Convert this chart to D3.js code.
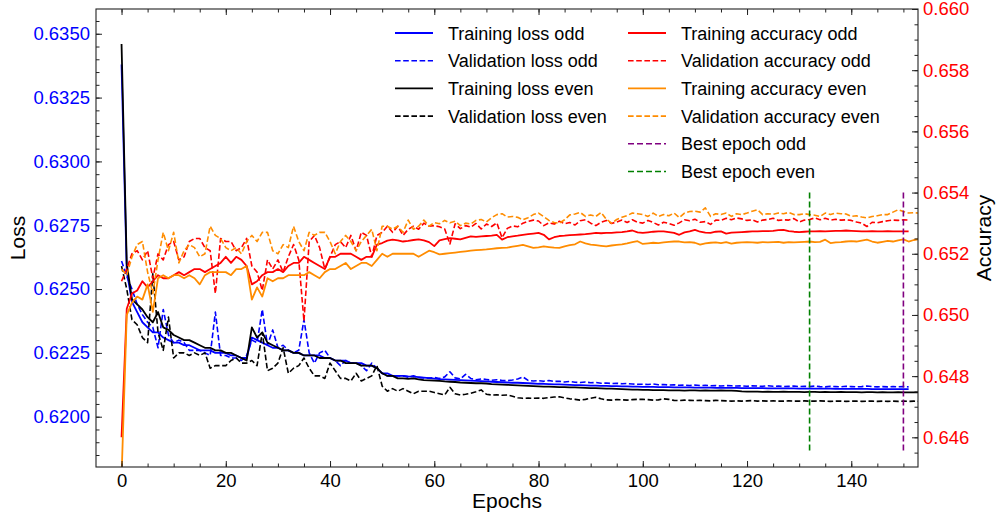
<!DOCTYPE html>
<html>
<head>
<meta charset="utf-8">
<script src="https://cdn.jsdelivr.net/npm/d3@7"></script>
<style>
  html, body { margin: 0; padding: 0; background: #fff; }
  svg { display: block; }
</style>
</head>
<body>
<div id="chart"></div>
<script>
const WIDTH = 998;
const HEIGHT = 518;
const MARGIN = { top: 9, right: 80, bottom: 51, left: 96 };
const FONT = "'Liberation Sans', Arial, Helvetica, sans-serif";

// axis ranges and tick labels
const epochDomain = [-4.9, 152.8];
const lossDomain = [0.61803, 0.63597];
const accDomain = [0.64503, 0.66];
const epochTicks = [0, 20, 40, 60, 80, 100, 120, 140];
const lossTicks = [0.6200, 0.6225, 0.6250, 0.6275, 0.6300, 0.6325, 0.6350];
const accTicks = [0.646, 0.648, 0.650, 0.652, 0.654, 0.656, 0.658, 0.660];

// per-epoch values, index = epoch
const trainLossOdd = [
  0.6338, 0.6257, 0.6245, 0.6241, 0.6237, 0.6235, 0.6233, 0.6233, 0.6231, 0.6230,
  0.6229, 0.6229, 0.6228, 0.6228, 0.6227, 0.6226, 0.6226, 0.6226, 0.6225, 0.6225,
  0.6225, 0.6224, 0.6224, 0.6223, 0.6223, 0.6231, 0.6230, 0.6229, 0.6228, 0.6227,
  0.6227, 0.6226, 0.6226, 0.6225, 0.6225, 0.6224, 0.6224, 0.6224, 0.6224, 0.6223,
  0.6223, 0.6222, 0.6222, 0.6222, 0.6221, 0.6221, 0.6221, 0.6220, 0.6220, 0.6219,
  0.6217, 0.6217, 0.6216, 0.6216, 0.6216, 0.62158, 0.62157, 0.62155, 0.62153, 0.62151,
  0.62149, 0.62147, 0.62146, 0.62145, 0.62144, 0.62143, 0.62142, 0.62141, 0.62140, 0.62139,
  0.62138, 0.62137, 0.62136, 0.62135, 0.62134, 0.62133, 0.62133, 0.62132, 0.62131, 0.62130,
  0.62129, 0.62129, 0.62128, 0.62127, 0.62127, 0.62126, 0.62125, 0.62124, 0.62124, 0.62123,
  0.62122, 0.62122, 0.62121, 0.62121, 0.62120, 0.62120, 0.62119, 0.62119, 0.62118, 0.62118,
  0.62117, 0.62117, 0.62117, 0.62116, 0.62116, 0.62116, 0.62115, 0.62115, 0.62115, 0.62115,
  0.62114, 0.62114, 0.62114, 0.62114, 0.62113, 0.62113, 0.62113, 0.62113, 0.62113, 0.62112,
  0.62112, 0.62112, 0.62112, 0.62112, 0.62111, 0.62111, 0.62111, 0.62111, 0.62111, 0.62111,
  0.62110, 0.62110, 0.62110, 0.62110, 0.62110, 0.62110, 0.62110, 0.62109, 0.62109, 0.62109,
  0.62109, 0.62109, 0.62109, 0.62109, 0.62108, 0.62108, 0.62108, 0.62108, 0.62108, 0.62108,
  0.62108, 0.62108
];
const valLossOdd = [
  0.6261, 0.6255, 0.6250, 0.6244, 0.6240, 0.6237, 0.6235, 0.6227, 0.6242, 0.6232,
  0.6229, 0.6230, 0.6229, 0.6226, 0.6226, 0.6226, 0.6225, 0.6224, 0.6241, 0.6224,
  0.6224, 0.6223, 0.6223, 0.6222, 0.6224, 0.6230, 0.6229, 0.6242, 0.6228, 0.6234,
  0.6227, 0.6228, 0.6226, 0.6225, 0.6226, 0.6238, 0.6225, 0.6221, 0.6225, 0.6226,
  0.6223, 0.6222, 0.6220, 0.6222, 0.6221, 0.6221, 0.6220, 0.6218, 0.6221, 0.6219,
  0.6217, 0.6216, 0.6216, 0.6216, 0.6216, 0.62155, 0.62160, 0.62153, 0.62152, 0.62151,
  0.62154, 0.62150, 0.62156, 0.62176, 0.62152, 0.62148, 0.62166, 0.62150, 0.62145, 0.62148,
  0.62146, 0.62143, 0.62145, 0.62142, 0.62141, 0.62144, 0.62148, 0.62156, 0.62142, 0.62140,
  0.62141, 0.62139, 0.62142, 0.62138, 0.62139, 0.62136, 0.62138, 0.62135, 0.62134, 0.62136,
  0.62133, 0.62134, 0.62131, 0.62132, 0.62130, 0.62131, 0.62129, 0.62130, 0.62128, 0.62127,
  0.62127, 0.62126, 0.62128, 0.62125, 0.62126, 0.62124, 0.62125, 0.62123, 0.62124, 0.62122,
  0.62124, 0.62122, 0.62123, 0.62121, 0.62122, 0.62120, 0.62122, 0.62121, 0.62120, 0.62121,
  0.62119, 0.62121, 0.62120, 0.62119, 0.62121, 0.62119, 0.62120, 0.62118, 0.62119, 0.62120,
  0.62118, 0.62119, 0.62118, 0.62120, 0.62118, 0.62117, 0.62119, 0.62118, 0.62117, 0.62119,
  0.62118, 0.62117, 0.62118, 0.62120, 0.62118, 0.62117, 0.62118, 0.62117, 0.62118, 0.62117,
  0.62118, 0.62117
];
const trainLossEven = [
  0.6346, 0.6260, 0.6246, 0.6244, 0.6242, 0.6239, 0.6237, 0.6241, 0.6235, 0.6234,
  0.6232, 0.6231, 0.6230, 0.6230, 0.6229, 0.6228, 0.6227, 0.6227, 0.6226, 0.6226,
  0.6225, 0.6225, 0.6224, 0.6223, 0.6222, 0.6235, 0.6231, 0.6233, 0.6229, 0.6228,
  0.6227, 0.6226, 0.6226, 0.6225, 0.6225, 0.6224, 0.6224, 0.6224, 0.6223, 0.6223,
  0.6223, 0.6222, 0.6222, 0.6221, 0.6221, 0.6221, 0.6220, 0.6220, 0.6220, 0.6219,
  0.6217, 0.6216, 0.6216, 0.6215, 0.6215, 0.62148, 0.62150, 0.62146, 0.62143, 0.62142,
  0.62141, 0.62140, 0.62138, 0.62137, 0.62136, 0.62134, 0.62133, 0.62132, 0.62131, 0.62131,
  0.62130, 0.62128, 0.62127, 0.62126, 0.62125, 0.62124, 0.62123, 0.62122, 0.62121, 0.62120,
  0.62119, 0.62118, 0.62118, 0.62117, 0.62116, 0.62116, 0.62115, 0.62115, 0.62114, 0.62113,
  0.62112, 0.62112, 0.62111, 0.62110, 0.62110, 0.62109, 0.62108, 0.62107, 0.62106, 0.62106,
  0.62105, 0.62105, 0.62104, 0.62104, 0.62104, 0.62103, 0.62103, 0.62103, 0.62102, 0.62103,
  0.62103, 0.62102, 0.62103, 0.62102, 0.62102, 0.62103, 0.62102, 0.62102, 0.62101, 0.62099,
  0.62098, 0.62098, 0.62098, 0.62097, 0.62098, 0.62097, 0.62097, 0.62098, 0.62097, 0.62097,
  0.62097, 0.62096, 0.62097, 0.62097, 0.62096, 0.62097, 0.62096, 0.62096, 0.62097, 0.62096,
  0.62096, 0.62096, 0.62095, 0.62096, 0.62096, 0.62095, 0.62096, 0.62095, 0.62095, 0.62096,
  0.62095, 0.62095, 0.62095, 0.62095
];
const valLossEven = [
  0.6259, 0.6250, 0.6238, 0.6236, 0.6231, 0.6229, 0.6256, 0.6233, 0.6226, 0.6239,
  0.6223, 0.6225, 0.6225, 0.6224, 0.6225, 0.6224, 0.6225, 0.6219, 0.6220, 0.6220,
  0.6220, 0.6222, 0.6223, 0.6221, 0.6221, 0.6222, 0.6220, 0.6233, 0.6218, 0.6219,
  0.6221, 0.6227, 0.6217, 0.6219, 0.6220, 0.6223, 0.6219, 0.6216, 0.6216, 0.6215,
  0.6221, 0.6218, 0.6215, 0.6215, 0.6214, 0.6217, 0.6214, 0.6215, 0.6216, 0.6220,
  0.6212, 0.6210, 0.6211, 0.6210, 0.6211, 0.6210, 0.6209, 0.6210, 0.6210, 0.6210,
  0.62095, 0.62090, 0.62085, 0.62115, 0.62090, 0.62085, 0.62088, 0.62092, 0.62098, 0.62105,
  0.62088, 0.62085, 0.62086, 0.62084, 0.62085, 0.62080, 0.62074, 0.62072, 0.62073, 0.62072,
  0.62073, 0.62072, 0.62075, 0.62077, 0.62078, 0.62074, 0.62070, 0.62068, 0.62065, 0.62068,
  0.62072, 0.62076, 0.62070, 0.62066, 0.62065, 0.62067, 0.62066, 0.62065, 0.62067, 0.62068,
  0.62068, 0.62067, 0.62065, 0.62066, 0.62070, 0.62068, 0.62064, 0.62063, 0.62065, 0.62064,
  0.62063, 0.62064, 0.62063, 0.62062, 0.62064, 0.62063, 0.62062, 0.62061, 0.62062, 0.62061,
  0.62062, 0.62063, 0.62061, 0.62062, 0.62061, 0.62062, 0.62061, 0.62061, 0.62062, 0.62061,
  0.62061, 0.62062, 0.62061, 0.62061, 0.62062, 0.62061, 0.62060, 0.62061, 0.62061, 0.62060,
  0.62061, 0.62061, 0.62060, 0.62061, 0.62061, 0.62060, 0.62061, 0.62060, 0.62061, 0.62060,
  0.62061, 0.62060, 0.62061, 0.62060
];
const trainAccOdd = [
  0.6460, 0.6502, 0.6507, 0.6508, 0.6511, 0.6509, 0.6511, 0.6513, 0.6512, 0.6512,
  0.6513, 0.6514, 0.6513, 0.6514, 0.6515, 0.6515, 0.6514, 0.6515, 0.6516, 0.6517,
  0.6519, 0.6517, 0.6519, 0.6518, 0.6516, 0.6510, 0.6511, 0.6513, 0.6514, 0.6514,
  0.6515, 0.6514, 0.6516, 0.6517, 0.6517, 0.6519, 0.6518, 0.6517, 0.6516, 0.6515,
  0.6519, 0.6519, 0.6520, 0.6520, 0.6520, 0.6519, 0.6518, 0.6519, 0.6519, 0.6523,
  0.65235, 0.65243, 0.65246, 0.65244, 0.65240, 0.65242, 0.65245, 0.65247, 0.65244, 0.65238,
  0.65225, 0.65244, 0.65248, 0.65251, 0.65249, 0.65247, 0.65252, 0.65257, 0.65255, 0.65257,
  0.65258, 0.65259, 0.65262, 0.65246, 0.65254, 0.65257, 0.65259, 0.65262, 0.65264, 0.65266,
  0.65268, 0.65262, 0.65247, 0.65254, 0.65258, 0.65259, 0.65261, 0.65262, 0.65263, 0.65264,
  0.65266, 0.65268, 0.65267, 0.65268, 0.65268, 0.65270, 0.65271, 0.65273, 0.65276, 0.65270,
  0.65268, 0.65270, 0.65272, 0.65273, 0.65273, 0.65271, 0.65268, 0.65262, 0.65270, 0.65273,
  0.65278, 0.65272, 0.65269, 0.65268, 0.65272, 0.65273, 0.65266, 0.65269, 0.65270, 0.65271,
  0.65272, 0.65273, 0.65273, 0.65274, 0.65274, 0.65275, 0.65277, 0.65278, 0.65274, 0.65272,
  0.65271, 0.65272, 0.65273, 0.65273, 0.65274, 0.65273, 0.65274, 0.65275, 0.65275, 0.65276,
  0.65275, 0.65274, 0.65273, 0.65273, 0.65274, 0.65273, 0.65273, 0.65274, 0.65273, 0.65273,
  0.65273, 0.65273
];
const valAccOdd = [
  0.6511, 0.6515, 0.6520, 0.6521, 0.6518, 0.6521, 0.6512, 0.6520, 0.6518, 0.6523,
  0.6524, 0.6518, 0.6519, 0.6524, 0.6525, 0.6525, 0.6522, 0.6521, 0.6507, 0.6525,
  0.6524, 0.6524, 0.6521, 0.6522, 0.6525, 0.6516, 0.6514, 0.6508, 0.6518, 0.6515,
  0.6518, 0.6514, 0.6519, 0.6523, 0.6518, 0.6498, 0.6524, 0.6526, 0.6522, 0.6515,
  0.6519, 0.6523, 0.6524, 0.6522, 0.6526, 0.6521, 0.6527, 0.6526, 0.6519, 0.6526,
  0.6527, 0.6529, 0.6527, 0.6529, 0.6526, 0.6528, 0.6529, 0.6528, 0.6530, 0.6529,
  0.65292, 0.65288, 0.65281, 0.65232, 0.65298, 0.65282, 0.65292, 0.65287, 0.65299, 0.65281,
  0.65297, 0.65289, 0.65301, 0.65252, 0.65283, 0.65291, 0.65288, 0.65300, 0.65306, 0.65310,
  0.65307, 0.65292, 0.65301, 0.65297, 0.65306, 0.65298, 0.65302, 0.65294, 0.65308, 0.65311,
  0.65300, 0.65292, 0.65303, 0.65309, 0.65299, 0.65304, 0.65310, 0.65302, 0.65311, 0.65303,
  0.65300, 0.65309, 0.65302, 0.65294, 0.65303, 0.65299, 0.65293, 0.65301, 0.65311, 0.65308,
  0.65313, 0.65303, 0.65305, 0.65296, 0.65310, 0.65309, 0.65316, 0.65311, 0.65317, 0.65314,
  0.65309, 0.65311, 0.65304, 0.65310, 0.65312, 0.65316, 0.65309, 0.65311, 0.65310, 0.65315,
  0.65304, 0.65310, 0.65312, 0.65317, 0.65311, 0.65316, 0.65310, 0.65313, 0.65310, 0.65311,
  0.65309, 0.65304, 0.65300, 0.65289, 0.65303, 0.65301, 0.65305, 0.65308, 0.65310, 0.65309,
  0.65311, 0.65310
];
const trainAccEven = [
  0.6447, 0.6500, 0.6504, 0.6506, 0.6505, 0.6510, 0.6501, 0.6512, 0.6513, 0.6512,
  0.6513, 0.6513, 0.6512, 0.6513, 0.6512, 0.6510, 0.6513, 0.6514, 0.6514, 0.6514,
  0.6514, 0.6513, 0.6515, 0.6515, 0.6516, 0.6505, 0.6509, 0.6506, 0.6512, 0.6511,
  0.6512, 0.6512, 0.6513, 0.6513, 0.6513, 0.6513, 0.6514, 0.6513, 0.6512, 0.6514,
  0.6515, 0.6515, 0.6516, 0.6517, 0.6515, 0.6516, 0.6517, 0.6517, 0.6516, 0.6518,
  0.6520, 0.6519, 0.6520, 0.6520, 0.6520, 0.6520, 0.6520, 0.6519, 0.6520, 0.6521,
  0.65205, 0.65198, 0.65200, 0.65202, 0.65204, 0.65206, 0.65208, 0.65210, 0.65212, 0.65213,
  0.65214, 0.65216, 0.65218, 0.65219, 0.65220, 0.65223, 0.65226, 0.65229, 0.65224, 0.65219,
  0.65221, 0.65224, 0.65222, 0.65220, 0.65219, 0.65224, 0.65228, 0.65231, 0.65240, 0.65234,
  0.65230, 0.65228, 0.65226, 0.65224, 0.65227, 0.65229, 0.65231, 0.65234, 0.65238, 0.65241,
  0.65232, 0.65234, 0.65236, 0.65235, 0.65237, 0.65239, 0.65240, 0.65240, 0.65237, 0.65238,
  0.65236, 0.65230, 0.65234, 0.65236, 0.65237, 0.65235, 0.65238, 0.65233, 0.65236, 0.65237,
  0.65238, 0.65237, 0.65236, 0.65238, 0.65237, 0.65238, 0.65239, 0.65236, 0.65238, 0.65237,
  0.65238, 0.65239, 0.65240, 0.65238, 0.65239, 0.65246, 0.65235, 0.65237, 0.65238, 0.65240,
  0.65241, 0.65240, 0.65243, 0.65246, 0.65240, 0.65236, 0.65239, 0.65242, 0.65240, 0.65244,
  0.65247, 0.65240, 0.65245, 0.65248
];
const valAccEven = [
  0.6515, 0.6513, 0.6519, 0.6523, 0.6524, 0.6514, 0.6507, 0.6518, 0.6527, 0.6521,
  0.6527, 0.6517, 0.6521, 0.6523, 0.6522, 0.6519, 0.6520, 0.6529, 0.6526, 0.6525,
  0.6522, 0.6521, 0.6522, 0.6520, 0.6524, 0.6526, 0.6524, 0.6527, 0.6527, 0.6521,
  0.6520, 0.6523, 0.6522, 0.6529, 0.6524, 0.6521, 0.6527, 0.6526, 0.6527, 0.6527,
  0.6524, 0.6520, 0.6524, 0.6526, 0.6524, 0.6521, 0.6524, 0.6526, 0.6528, 0.6521,
  0.6529, 0.6529, 0.6528, 0.6529, 0.6527, 0.6531, 0.6528, 0.6529, 0.6531, 0.6529,
  0.65302, 0.65298, 0.65309, 0.65301, 0.65306, 0.65292, 0.65300, 0.65297, 0.65309, 0.65312,
  0.65304, 0.65318, 0.65328, 0.65331, 0.65320, 0.65322, 0.65319, 0.65311, 0.65318, 0.65328,
  0.65333, 0.65321, 0.65309, 0.65302, 0.65300, 0.65311, 0.65327, 0.65330, 0.65335, 0.65322,
  0.65327, 0.65322, 0.65335, 0.65313, 0.65300, 0.65312, 0.65319, 0.65325, 0.65333, 0.65331,
  0.65328, 0.65322, 0.65333, 0.65322, 0.65328, 0.65324, 0.65333, 0.65318, 0.65333, 0.65338,
  0.65339, 0.65336, 0.65350, 0.65322, 0.65331, 0.65328, 0.65333, 0.65322, 0.65331, 0.65328,
  0.65333, 0.65339, 0.65344, 0.65328, 0.65331, 0.65329, 0.65333, 0.65331, 0.65335, 0.65328,
  0.65328, 0.65331, 0.65328, 0.65326, 0.65322, 0.65333, 0.65328, 0.65333, 0.65331, 0.65330,
  0.65322, 0.65324, 0.65320, 0.65317, 0.65322, 0.65324, 0.65328, 0.65328, 0.65336, 0.65344,
  0.65338, 0.65333, 0.65334, 0.65333
];

// best epochs (vertical markers) and their vertical extent on the accuracy axis
const bestEpochOdd = 150;
const bestEpochEven = 132;
const bestEpochSpan = [0.6455, 0.6540];

const plotW = WIDTH - MARGIN.left - MARGIN.right;
const plotH = HEIGHT - MARGIN.top - MARGIN.bottom;

const x = d3.scaleLinear().domain(epochDomain).range([0, plotW]);
const yLoss = d3.scaleLinear().domain(lossDomain).range([plotH, 0]);
const yAcc = d3.scaleLinear().domain(accDomain).range([plotH, 0]);

const DASH = "5.6,2.6";

const lossSeries = [
  { label: "Training loss odd", values: trainLossOdd, color: "#0000ff", dash: null },
  { label: "Validation loss odd", values: valLossOdd, color: "#0000ff", dash: DASH },
  { label: "Training loss even", values: trainLossEven, color: "#000000", dash: null },
  { label: "Validation loss even", values: valLossEven, color: "#000000", dash: DASH },
];
const accSeries = [
  { label: "Training accuracy odd", values: trainAccOdd, color: "#ff0000", dash: null },
  { label: "Validation accuracy odd", values: valAccOdd, color: "#ff0000", dash: DASH },
  { label: "Training accuracy even", values: trainAccEven, color: "#ff8c00", dash: null },
  { label: "Validation accuracy even", values: valAccEven, color: "#ff8c00", dash: DASH },
];
const bestLines = [
  { label: "Best epoch odd", epoch: bestEpochOdd, color: "#800080", dash: "6,3" },
  { label: "Best epoch even", epoch: bestEpochEven, color: "#008000", dash: "6,3" },
];

const svg = d3.select("#chart")
  .append("svg")
  .attr("width", WIDTH)
  .attr("height", HEIGHT)
  .attr("viewBox", `0 0 ${WIDTH} ${HEIGHT}`);

svg.append("rect").attr("width", WIDTH).attr("height", HEIGHT).attr("fill", "#fff");

const g = svg.append("g").attr("transform", `translate(${MARGIN.left},${MARGIN.top})`);

g.append("clipPath").attr("id", "plot-clip")
  .append("rect").attr("width", plotW).attr("height", plotH);

const plot = g.append("g").attr("clip-path", "url(#plot-clip)");

function drawSeries(list, yScale) {
  list.forEach((s) => {
    const line = d3.line().x((d, i) => x(i)).y((d) => yScale(d));
    plot.append("path")
      .datum(s.values)
      .attr("d", line)
      .attr("fill", "none")
      .attr("stroke", s.color)
      .attr("stroke-width", s.dash ? 1.6 : 1.8)
      .attr("stroke-dasharray", s.dash)
      .attr("stroke-linejoin", "round");
  });
}

drawSeries(lossSeries, yLoss);
drawSeries(accSeries, yAcc);

// best epoch markers
bestLines.forEach((b) => {
  plot.append("line")
    .attr("x1", x(b.epoch)).attr("x2", x(b.epoch))
    .attr("y1", yAcc(bestEpochSpan[1])).attr("y2", yAcc(bestEpochSpan[0]))
    .attr("stroke", b.color)
    .attr("stroke-width", 1.6)
    .attr("stroke-dasharray", b.dash);
});

// axes, ticks pointing inward
function styleAxis(sel, color, size) {
  sel.select(".domain").remove();
  sel.selectAll(".tick line").attr("stroke", "#222").attr("stroke-width", 1);
  sel.selectAll(".tick text")
    .attr("fill", color)
    .attr("font-size", size || "18.5px")
    .attr("font-family", FONT);
}

const lossMinor = d3.range(0.6185, 0.63600, 0.0005);
const accMinor = d3.range(0.6455, 0.66001, 0.0005);
const epochMinor = d3.range(0, 155, 5);

g.append("g").call(d3.axisLeft(yLoss).tickValues(lossMinor).tickFormat("").tickSizeInner(-3.5).tickSizeOuter(0))
  .call(styleAxis, "#000");
g.append("g").call(d3.axisLeft(yLoss).tickValues(lossTicks).tickFormat(d3.format(".4f"))
  .tickSizeInner(-6).tickSizeOuter(0).tickPadding(6))
  .call(styleAxis, "#0000ff");

g.append("g").attr("transform", `translate(${plotW},0)`)
  .call(d3.axisRight(yAcc).tickValues(accMinor).tickFormat("").tickSizeInner(-3.5).tickSizeOuter(0))
  .call(styleAxis, "#000");
g.append("g").attr("transform", `translate(${plotW},0)`)
  .call(d3.axisRight(yAcc).tickValues(accTicks).tickFormat(d3.format(".3f"))
    .tickSizeInner(-6).tickSizeOuter(0).tickPadding(5))
  .call(styleAxis, "#ff0000");

g.append("g").attr("transform", `translate(0,${plotH})`)
  .call(d3.axisBottom(x).tickValues(epochMinor).tickFormat("").tickSizeInner(-3.5).tickSizeOuter(0))
  .call(styleAxis, "#000");
g.append("g").attr("transform", `translate(0,${plotH})`)
  .call(d3.axisBottom(x).tickValues(epochTicks).tickFormat(d3.format("d"))
    .tickSizeInner(-6).tickSizeOuter(0).tickPadding(7))
  .call(styleAxis, "#000");

g.append("g")
  .call(d3.axisTop(x).tickValues(epochMinor).tickFormat("").tickSizeInner(-3.5).tickSizeOuter(0))
  .call(styleAxis, "#000");
g.append("g")
  .call(d3.axisTop(x).tickValues(epochTicks).tickFormat("").tickSizeInner(-6).tickSizeOuter(0))
  .call(styleAxis, "#000");

// frame
g.append("rect")
  .attr("width", plotW).attr("height", plotH)
  .attr("fill", "none").attr("stroke", "#222").attr("stroke-width", 1.1);

// axis titles
svg.append("text")
  .attr("x", MARGIN.left + plotW / 2).attr("y", 508)
  .attr("text-anchor", "middle")
  .attr("font-family", FONT).attr("font-size", "21px").attr("fill", "#000")
  .text("Epochs");
svg.append("text")
  .attr("transform", "translate(25,238) rotate(-90)")
  .attr("text-anchor", "middle")
  .attr("font-family", FONT).attr("font-size", "21px").attr("fill", "#000")
  .text("Loss");
svg.append("text")
  .attr("transform", "translate(991,238) rotate(-90)")
  .attr("text-anchor", "middle")
  .attr("font-family", FONT).attr("font-size", "21px").attr("fill", "#000")
  .text("Accuracy");

// legend: loss entries left column, accuracy + best epoch entries right column
const legendCols = [
  { x: 299, entries: lossSeries },
  { x: 532, entries: accSeries.concat(bestLines) },
];
const ROW = 27.7;
legendCols.forEach((col) => {
  const lg = g.append("g").attr("transform", `translate(${col.x},24)`);
  col.entries.forEach((e, i) => {
    lg.append("line")
      .attr("x1", 0).attr("x2", 38)
      .attr("y1", i * ROW).attr("y2", i * ROW)
      .attr("stroke", e.color)
      .attr("stroke-width", e.dash ? 1.6 : 1.8)
      .attr("stroke-dasharray", e.dash);
    lg.append("text")
      .attr("x", 53).attr("y", i * ROW + 6.6)
      .attr("font-family", FONT).attr("font-size", "18px").attr("fill", "#000")
      .text(e.label);
  });
});
</script>
</body>
</html>
